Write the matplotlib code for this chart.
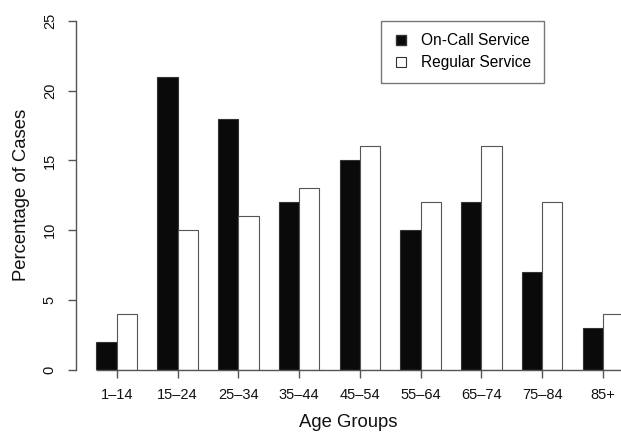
import numpy as np
import matplotlib.pyplot as plt
from matplotlib.lines import Line2D

age_groups = ["1\u201314", "15\u201324", "25\u201334", "35\u201344", "45\u201354",
              "55\u201364", "65\u201374", "75\u201384", "85+"]
on_call = [2, 21, 18, 12, 15, 10, 12, 7, 3]
regular = [4, 10, 11, 13, 16, 12, 16, 12, 4]

plt.rcParams["font.family"] = ["Liberation Sans", "DejaVu Sans"]
line_col = "#555555"

fig = plt.figure(figsize=(6.21, 4.37), dpi=100)
ax = fig.add_axes([76 / 621, 67 / 437, 545 / 621, 349.3 / 437])

centers = np.arange(len(age_groups)) * 3
ax.bar(centers, on_call, width=-1, align="edge", color="#0a0a0a",
       edgecolor="#333333", linewidth=0.8)
ax.bar(centers, regular, width=1, align="edge", color="white",
       edgecolor="#555555", linewidth=0.8)

ax.set_xlim(-2.01, 24.89)
ax.set_ylim(0, 25)
ax.hlines(0, centers[0] - 1, 24.89, color=line_col, linewidth=1.0, clip_on=False)

for s in ["top", "right", "bottom"]:
    ax.spines[s].set_visible(False)
ax.spines["left"].set_color(line_col)
ax.spines["left"].set_linewidth(1.0)

ax.set_yticks([0, 5, 10, 15, 20, 25])
ax.set_yticklabels(["0", "5", "10", "15", "20", "25"], rotation=90,
                   va="center", ha="right")
ax.set_xticks(centers)
ax.set_xticklabels(age_groups)
ax.tick_params(axis="both", length=5.8, width=1.0, color=line_col,
               labelsize=10.5, labelcolor="#111111")
ax.tick_params(axis="y", pad=8)
ax.tick_params(axis="x", pad=7)

ax.set_xlabel("Age Groups", fontsize=13.3, color="#111111", labelpad=9)
ax.set_ylabel("Percentage of Cases", fontsize=13.3, color="#111111", labelpad=9)

handles = [
    Line2D([], [], linestyle="none", marker="s", markersize=7.5,
           markerfacecolor="#0a0a0a", markeredgecolor="#333333"),
    Line2D([], [], linestyle="none", marker="s", markersize=7.5,
           markerfacecolor="white", markeredgecolor="#333333", markeredgewidth=0.8),
]
leg = fig.legend(handles, ["On-Call Service", "Regular Service"],
                 loc="upper left", bbox_to_anchor=(380.7 / 621, 1 - 20.7 / 437),
                 fontsize=11.2, frameon=True, fancybox=False, borderaxespad=0,
                 borderpad=0.8, handletextpad=0.8, handlelength=1.0,
                 labelspacing=0.45)
leg.get_frame().set_edgecolor(line_col)
leg.get_frame().set_linewidth(1.0)

fig.savefig("out.png", dpi=100)
